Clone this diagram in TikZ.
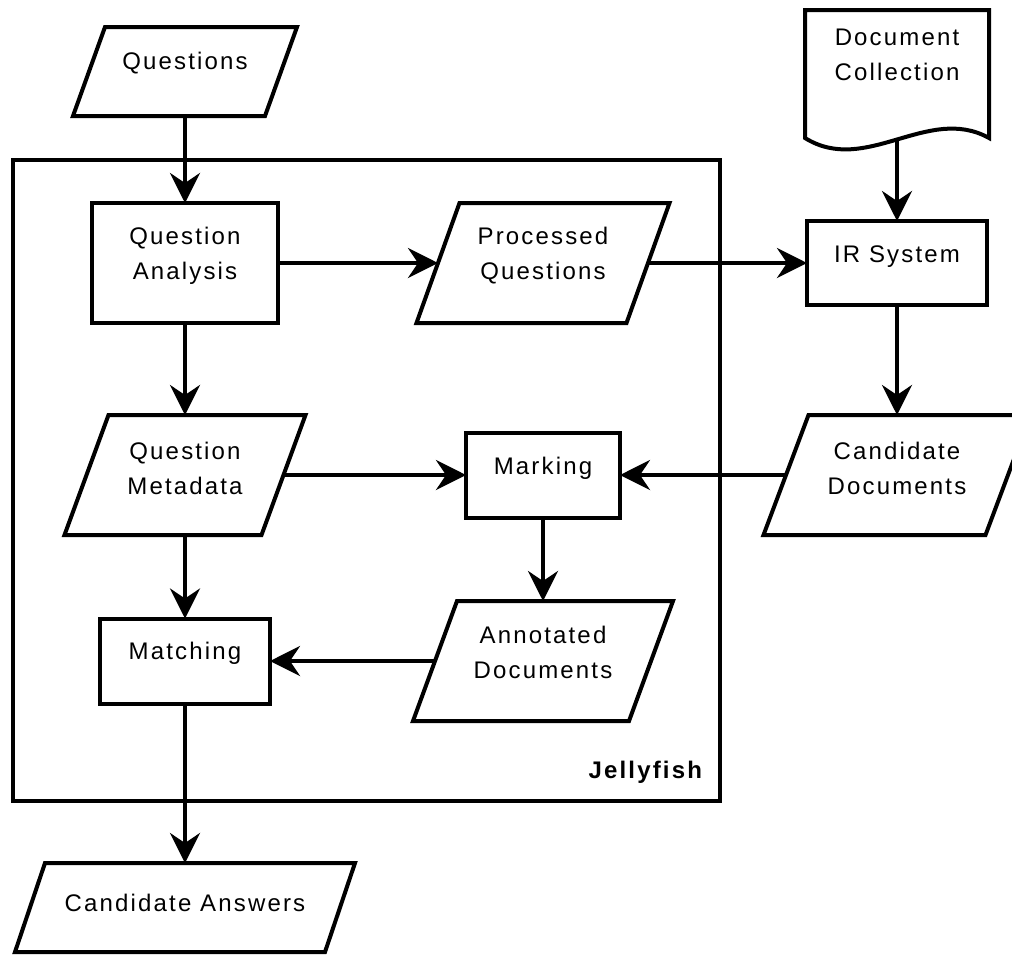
\documentclass[tikz,border=0pt]{standalone}
\usepackage{fontspec}
\setmainfont{Liberation Sans}[LetterSpace=9]
\usetikzlibrary{arrows.meta,calc}

\tikzset{
  shp/.style={draw=black, line width=4pt, line join=miter},
  anchorbox/.style={shape=rectangle, inner sep=0pt, outer sep=0pt, draw=none},
  procbox/.style={anchorbox, shp},
  lbl/.style={align=center, inner sep=0pt, outer sep=0pt, font=\fontsize{24}{35}\selectfont},
  flow/.style={line width=4pt, -{Stealth[length=30pt,width=30pt,inset=10pt]}},
}

% parallelogram drawn round an anchor box: #1 node name, #2 half of the slant
\newcommand\parapath[2]{%
  \draw[shp] ([xshift=-#2pt]#1.south west) -- ([xshift=-#2pt]#1.south east)
    -- ([xshift=#2pt]#1.north east) -- ([xshift=#2pt]#1.north west) -- cycle;}

\begin{document}
\begin{tikzpicture}[x=1pt, y=-1pt]
  \useasboundingbox (0,0) rectangle (1012,954);
  \fill[white] (0,0) rectangle (1012,954);
  \clip (0,0) rectangle (1012,954);

  % Jellyfish frame
  \node[procbox, minimum width=707pt, minimum height=641pt] (jf) at (366.5,480.5) {};
  \node[lbl, font=\fontsize{24}{35}\bfseries, anchor=east] (jf-t) at (702,772) {Jellyfish};

  % column 1
  \node[anchorbox, minimum width=192pt, minimum height=89pt] (qs) at (185,71.5) {};
  \parapath{qs}{16}
  \node[lbl] (qs-t) at (185,63) {Questions};

  \node[procbox, minimum width=186pt, minimum height=120pt] (qa) at (185,263) {};
  \node[lbl] (qa-t) at (185,255.5) {Question\\Analysis};

  \node[anchorbox, minimum width=197pt, minimum height=120pt] (qm) at (185,475) {};
  \parapath{qm}{22}
  \node[lbl] (qm-t) at (185,468.5) {Question\\Metadata};

  \node[procbox, minimum width=170pt, minimum height=85pt] (mt) at (185,661) {};
  \node[lbl] (mt-t) at (185,653) {Matching};

  \node[anchorbox, minimum width=310pt, minimum height=89pt] (ca) at (185,907.5) {};
  \parapath{ca}{15}
  \node[lbl] (ca-t) at (185,903) {Candidate Answers};

  % column 2
  \node[anchorbox, minimum width=210pt, minimum height=120pt] (pq) at (543,263) {};
  \parapath{pq}{21.5}
  \node[lbl] (pq-t) at (543,255.5) {Processed\\Questions};

  \node[procbox, minimum width=154pt, minimum height=85pt] (mk) at (543,475) {};
  \node[lbl] (mk-t) at (543,468) {Marking};

  \node[anchorbox, minimum width=216pt, minimum height=120pt] (an) at (543,661) {};
  \parapath{an}{22}
  \node[lbl] (an-t) at (543,652.5) {Annotated\\Documents};

  % column 3
  \node[anchorbox, minimum width=184pt, minimum height=129.5pt] (docc) at (897,74.75) {};
  \draw[shp] (805,138) -- (805,10) -- (989,10) -- (989,138)
    .. controls (928,104) and (866,176) .. (805,138) -- cycle;
  \node[lbl] (docc-t) at (897,54.5) {Document\\Collection};

  \node[procbox, minimum width=180pt, minimum height=84pt] (ir) at (897,263) {};
  \node[lbl] (ir-t) at (897,257) {IR System};

  \node[anchorbox, minimum width=222pt, minimum height=120pt] (cd) at (897,475) {};
  \parapath{cd}{22.5}
  \node[lbl] (cd-t) at (897,468.5) {Candidate\\Documents};

  % connectors
  \draw[flow] (qs) -- (qa);
  \draw[flow] (qa) -- (pq);
  \draw[flow] (pq) -- (ir);
  \draw[flow] (docc) -- (ir);
  \draw[flow] (ir) -- (cd);
  \draw[flow] (qa) -- (qm);
  \draw[flow] (qm) -- (mk);
  \draw[flow] (cd) -- (mk);
  \draw[flow] (mk) -- (an);
  \draw[flow] (qm) -- (mt);
  \draw[flow] (an) -- (mt);
  \draw[flow] (mt) -- (ca);
\end{tikzpicture}
\end{document}
